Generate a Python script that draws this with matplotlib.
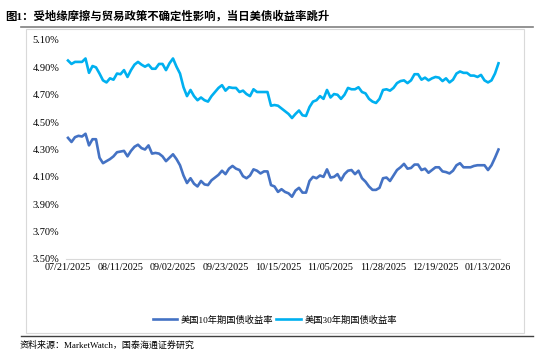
import numpy as np
import matplotlib
import matplotlib.pyplot as plt
from matplotlib.lines import Line2D

matplotlib.use("Agg")

# trading days from 07/21/2025 to 01/20/2026, label every 15th
tick_labels = ["07/21/2025", "08/11/2025", "09/02/2025", "09/23/2025", "10/15/2025",
               "11/05/2025", "11/28/2025", "12/19/2025", "01/13/2026"]

us10y = [4.385, 4.355, 4.39, 4.40, 4.395, 4.415, 4.33, 4.375, 4.375, 4.24,
         4.20, 4.215, 4.23, 4.25, 4.28, 4.285, 4.29, 4.25, 4.29, 4.32,
         4.335, 4.31, 4.30, 4.33, 4.27, 4.275, 4.27, 4.25, 4.215, 4.24,
         4.265, 4.23, 4.185, 4.11, 4.055, 4.09, 4.05, 4.03, 4.07, 4.045,
         4.04, 4.075, 4.095, 4.115, 4.145, 4.12, 4.16, 4.18, 4.16, 4.15,
         4.105, 4.09, 4.11, 4.155, 4.145, 4.125, 4.14, 4.14, 4.04, 4.03,
         3.99, 4.01, 3.99, 3.98, 3.955, 4.00, 4.02, 3.985, 3.985, 4.07,
         4.10, 4.09, 4.11, 4.10, 4.155, 4.095, 4.10, 4.12, 4.075, 4.12,
         4.145, 4.15, 4.12, 4.145, 4.09, 4.065, 4.03, 4.005, 4.005, 4.02,
         4.09, 4.095, 4.07, 4.11, 4.15, 4.17, 4.195, 4.16, 4.165, 4.19,
         4.19, 4.15, 4.16, 4.13, 4.15, 4.17, 4.17, 4.14, 4.135, 4.125,
         4.145, 4.185, 4.20, 4.17, 4.17, 4.17, 4.18, 4.185, 4.185, 4.185,
         4.15, 4.185, 4.24, 4.30]

us30y = [4.95, 4.925, 4.94, 4.94, 4.94, 4.965, 4.86, 4.91, 4.90, 4.855,
         4.805, 4.79, 4.82, 4.81, 4.855, 4.85, 4.88, 4.83, 4.88, 4.92,
         4.94, 4.92, 4.905, 4.92, 4.89, 4.89, 4.925, 4.925, 4.88, 4.93,
         4.965, 4.905, 4.855, 4.755, 4.69, 4.735, 4.69, 4.66, 4.68, 4.66,
         4.65, 4.69, 4.72, 4.75, 4.77, 4.73, 4.755, 4.75, 4.75, 4.72,
         4.73, 4.705, 4.69, 4.74, 4.72, 4.72, 4.72, 4.72, 4.62, 4.625,
         4.62, 4.60, 4.58, 4.56, 4.53, 4.56, 4.585, 4.55, 4.545, 4.61,
         4.65, 4.66, 4.69, 4.67, 4.735, 4.68, 4.705, 4.70, 4.67, 4.70,
         4.75, 4.74, 4.74, 4.755, 4.72, 4.71, 4.67, 4.65, 4.64, 4.67,
         4.735, 4.74, 4.73, 4.75, 4.785, 4.80, 4.805, 4.785, 4.805, 4.85,
         4.85, 4.81, 4.825, 4.805, 4.82, 4.83, 4.825, 4.80, 4.82, 4.79,
         4.81, 4.855, 4.87, 4.86, 4.86, 4.84, 4.84, 4.83, 4.845, 4.805,
         4.79, 4.805, 4.855, 4.93]

series_names = ["美国10年期国债收益率", "美国30年期国债收益率"]
colors = ["#4472C4", "#00B0F0"]

title = "图1：受地缘摩擦与贸易政策不确定性影响，当日美债收益率跳升"
source = "资料来源：MarketWatch，国泰海通证券研究"

cjk = ["Liberation Serif", "Noto Sans CJK SC"]
num_font = "Liberation Serif"

fig = plt.figure(figsize=(5.54, 3.54), dpi=100)
W, H = 554, 354


def fx(px):
    return px / W


def fy(py):
    return 1 - py / H


# frame lines and chart box
fig.add_artist(Line2D([fx(21), fx(533)], [fy(27), fy(27)], color="#808080", lw=1.2))
fig.add_artist(Line2D([fx(21), fx(533)], [fy(336), fy(336)], color="#404040", lw=1.0))
fig.add_artist(plt.Rectangle((fx(26), fy(333)), fx(524) - fx(26), fy(29) - fy(333),
                             fill=False, edgecolor="#d9d9d9", lw=0.8))

fig.text(fx(5), fy(16), title, family=cjk, fontsize=8.2, fontweight="bold", va="center", ha="left")
fig.text(fx(20), fy(345), source, family=cjk, fontsize=6.5, va="center", ha="left")

ax = fig.add_axes([fx(66.25), fy(259), fx(500.25) - fx(66.25), fy(40) - fy(259)])
x = np.arange(len(us10y))
ax.plot(x, us10y, color=colors[0], lw=1.9, label=series_names[0], solid_joinstyle="round")
ax.plot(x, us30y, color=colors[1], lw=1.9, label=series_names[1], solid_joinstyle="round")

ax.set_xlim(-0.5, len(us10y) - 0.5)
ax.set_ylim(3.5, 5.1)
yt = np.arange(3.5, 5.11, 0.2)
ax.set_yticks(yt)
ax.set_yticklabels([f"{v:.2f}%" for v in yt], family=num_font, fontsize=7.5)
ax.set_xticks(np.arange(0, len(us10y), 15))
ax.set_xticklabels(tick_labels, family=num_font, fontsize=7.3)
ax.tick_params(length=0, pad=3)
ax.tick_params(axis="y", pad=5)
for s in ["top", "right", "left"]:
    ax.spines[s].set_visible(False)
ax.spines["bottom"].set_color("#d9d9d9")
ax.spines["bottom"].set_linewidth(0.8)
ax.patch.set_alpha(0)

fig.legend(loc="center", bbox_to_anchor=(fx(275), fy(320)), ncol=2, frameon=False,
           prop={"family": cjk, "size": 6.7}, handlelength=2.6, columnspacing=0.3,
           handletextpad=0.4)

fig.savefig("out.png", dpi=100)
